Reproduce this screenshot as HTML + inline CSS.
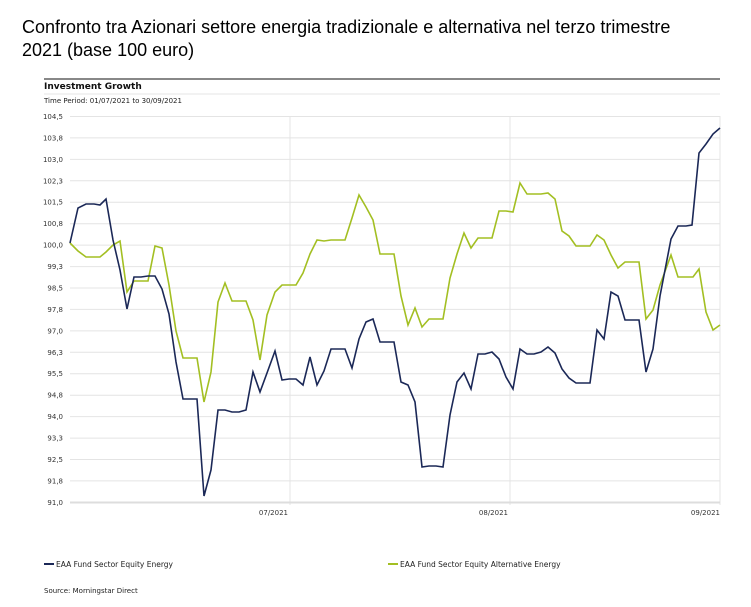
<!DOCTYPE html>
<html><head><meta charset="utf-8"><style>
body{margin:0;background:#fff;width:751px;height:607px;overflow:hidden}
svg{display:block}
</style></head><body>
<svg width="751" height="607" viewBox="0 0 751 607" font-family="'DejaVu Sans','Liberation Sans',sans-serif">
<text x="22" y="33" font-family="'Liberation Sans',Arial,sans-serif" font-size="18" fill="#000">Confronto tra Azionari settore energia tradizionale e alternativa nel terzo trimestre</text>
<text x="22" y="56" font-family="'Liberation Sans',Arial,sans-serif" font-size="18" fill="#000">2021 (base 100 euro)</text>
<line x1="44" y1="79" x2="720" y2="79" stroke="#888" stroke-width="2"/>
<text x="44" y="89" font-size="9" font-weight="bold" fill="#111">Investment Growth</text>
<line x1="44" y1="94" x2="720" y2="94" stroke="#e6e6e6" stroke-width="1"/>
<text x="44" y="103" font-size="7" fill="#222">Time Period: 01/07/2021 to 30/09/2021</text>
<g stroke="#e4e4e4" stroke-width="1">
<line x1="70" y1="116.5" x2="720" y2="116.5"/><line x1="70" y1="137.9" x2="720" y2="137.9"/><line x1="70" y1="159.4" x2="720" y2="159.4"/><line x1="70" y1="180.8" x2="720" y2="180.8"/><line x1="70" y1="202.2" x2="720" y2="202.2"/><line x1="70" y1="223.7" x2="720" y2="223.7"/><line x1="70" y1="245.1" x2="720" y2="245.1"/><line x1="70" y1="266.6" x2="720" y2="266.6"/><line x1="70" y1="288" x2="720" y2="288"/><line x1="70" y1="309.4" x2="720" y2="309.4"/><line x1="70" y1="330.9" x2="720" y2="330.9"/><line x1="70" y1="352.3" x2="720" y2="352.3"/><line x1="70" y1="373.7" x2="720" y2="373.7"/><line x1="70" y1="395.2" x2="720" y2="395.2"/><line x1="70" y1="416.6" x2="720" y2="416.6"/><line x1="70" y1="438.1" x2="720" y2="438.1"/><line x1="70" y1="459.5" x2="720" y2="459.5"/><line x1="70" y1="480.9" x2="720" y2="480.9"/>
<line x1="290" y1="116" x2="290" y2="505"/><line x1="510" y1="116" x2="510" y2="505"/><line x1="720" y1="116" x2="720" y2="505"/>
</g>
<line x1="70" y1="502.5" x2="720" y2="502.5" stroke="#ddd" stroke-width="2"/>
<g font-size="7" fill="#333" text-anchor="end">
<text x="63" y="119">104,5</text><text x="63" y="140.4">103,8</text><text x="63" y="161.9">103,0</text><text x="63" y="183.3">102,3</text><text x="63" y="204.7">101,5</text><text x="63" y="226.2">100,8</text><text x="63" y="247.6">100,0</text><text x="63" y="269">99,3</text><text x="63" y="290.5">98,5</text><text x="63" y="311.9">97,8</text><text x="63" y="333.4">97,0</text><text x="63" y="354.8">96,3</text><text x="63" y="376.2">95,5</text><text x="63" y="397.7">94,8</text><text x="63" y="419.1">94,0</text><text x="63" y="440.5">93,3</text><text x="63" y="462">92,5</text><text x="63" y="483.4">91,8</text><text x="63" y="504.9">91,0</text>
<text x="288" y="515">07/2021</text><text x="508" y="515">08/2021</text><text x="720" y="515">09/2021</text>
</g>
<polyline fill="none" stroke="#a3bf22" stroke-width="1.6" points="70,243 78,251 86,257 94,257 100,257 106,252 113,245 120,241 127,292 134,281 141,281 148,281 155,246 162,248 169,285 176,331 183,358 190,358 197,358 204,402 211,372 218,302 225,283 232,301 239,301 246,301 253,320 260,360 267,315 275,292 282,285 289,285 296,285 303,273 310,254 317,240 324,241 331,240 338,240 345,240 352,218 359,195 366,207 373,220 380,254 387,254 394,254 401,296 408,325 415,308 422,327 429,319 436,319 443,319 450,278 457,254 464,233 471,248 478,238 485,238 492,238 499,211 506,211 513,212 520,183 527,194 534,194 541,194 548,193 555,199 562,231 569,236 576,246 583,246 590,246 597,235 604,240 611,255 618,268 625,262 632,262 639,262 646,319 653,310 660,285 667,266 671,255 678,277 686,277 693,277 699,269 706,312 713,330 720,325"/>
<polyline fill="none" stroke="#1b2857" stroke-width="1.6" points="70,243 78,208 86,204 94,204 100,205 106,199 113,240 120,270 127,309 134,277 141,277 148,276 155,276 162,289 169,314 176,362 183,399 190,399 197,399 204,496 211,470 218,410 225,410 232,412 239,412 246,410 253,372 260,392 267,373 275,351 282,380 289,379 296,379 303,385 310,357 317,385 324,371 331,349 338,349 345,349 352,368 359,339 366,322 373,319 380,342 387,342 394,342 401,382 408,385 415,402 422,467 429,466 436,466 443,467 450,415 457,382 464,373 471,389 478,354 485,354 492,352 499,359 506,377 513,389 520,349 527,354 534,354 541,352 548,347 555,353 562,369 569,378 576,383 583,383 590,383 597,330 604,339 611,292 618,296 625,320 632,320 639,320 646,372 653,349 660,296 671,239 678,226 686,226 692,225 699,153 706,144 713,134 720,128"/>
<line x1="44" y1="564" x2="54" y2="564" stroke="#1b2857" stroke-width="2"/>
<text x="56" y="567" font-size="7.5" fill="#222">EAA Fund Sector Equity Energy</text>
<line x1="388" y1="564" x2="398" y2="564" stroke="#a3bf22" stroke-width="2"/>
<text x="400" y="567" font-size="7.5" fill="#222">EAA Fund Sector Equity Alternative Energy</text>
<text x="44" y="593" font-size="7" fill="#222">Source: Morningstar Direct</text>
</svg>
</body></html>
